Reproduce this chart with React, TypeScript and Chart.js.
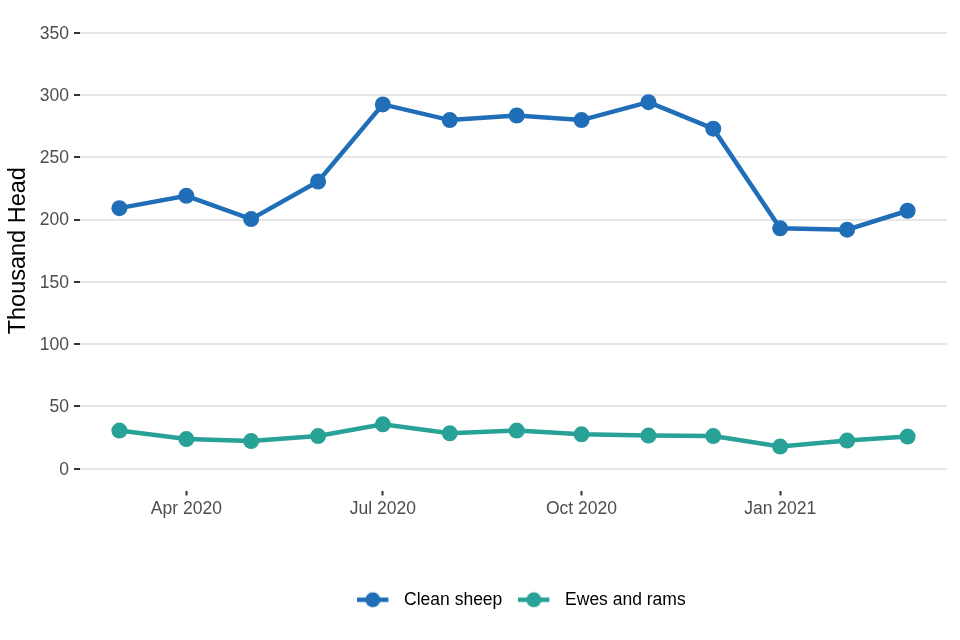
import React, { useEffect, useRef } from "react";
import { Chart, registerables } from "chart.js";

Chart.register(...registerables);

// ---- Data ----
const months = [
  "2020-03-01", "2020-04-01", "2020-05-01", "2020-06-01", "2020-07-01",
  "2020-08-01", "2020-09-01", "2020-10-01", "2020-11-01", "2020-12-01",
  "2021-01-01", "2021-02-01", "2021-03-01",
];
const cleanSheep = [209.2, 219.1, 200.4, 230.6, 292.5, 279.9, 283.6, 279.9, 294.3, 273.0, 193.0, 191.9, 207.1];
const ewesAndRams = [30.6, 23.8, 22.2, 26.2, 35.6, 28.4, 30.6, 27.6, 26.6, 26.2, 17.8, 22.6, 25.8];
const seriesNames = ["Clean sheep", "Ewes and rams"];
const seriesColors = ["#1f6eb7", "#28a197"];
const xTickDates = ["2020-04-01", "2020-07-01", "2020-10-01", "2021-01-01"];
const xTickLabels = ["Apr 2020", "Jul 2020", "Oct 2020", "Jan 2021"];
const yTicks = [0, 50, 100, 150, 200, 250, 300, 350];
const yTitle = "Thousand Head";

const DAY = 86400000;
const toDay = (s: string) => Date.parse(s + "T00:00:00Z") / DAY;

function makeLegendSymbol(color: string): HTMLCanvasElement {
  const c = document.createElement("canvas");
  c.width = 38;
  c.height = 18;
  const ctx = c.getContext("2d")!;
  ctx.strokeStyle = color;
  ctx.lineWidth = 4.5;
  ctx.beginPath();
  ctx.moveTo(0, 9);
  ctx.lineTo(31, 9);
  ctx.stroke();
  ctx.fillStyle = color;
  ctx.beginPath();
  ctx.arc(15.5, 9, 7.5, 0, Math.PI * 2);
  ctx.fill();
  return c;
}

export default function App() {
  const canvasRef = useRef<HTMLCanvasElement | null>(null);

  useEffect(() => {
    document.body.style.margin = "0";
    const canvas = canvasRef.current;
    if (!canvas) return;

    Chart.defaults.font.family = "'Liberation Sans', Arial, sans-serif";

    const xs = months.map(toDay);
    const first = xs[0];
    const last = xs[xs.length - 1];
    const pad = (last - first) * 0.05;
    const tickDays = xTickDates.map(toDay);

    const symbols = seriesColors.map(makeLegendSymbol);

    const legendShift = {
      id: "legendShift",
      afterLayout(chart: any) {
        const l = chart.legend;
        if (l) {
          l.left += 8;
          l.right += 8;
        }
      },
    };

    const chart = new Chart(canvas, {
      type: "line",
      data: {
        datasets: [cleanSheep, ewesAndRams].map((vals, i) => ({
          label: seriesNames[i],
          data: vals.map((v, j) => ({ x: xs[j], y: v })),
          borderColor: seriesColors[i],
          backgroundColor: seriesColors[i],
          pointBackgroundColor: seriesColors[i],
          pointBorderWidth: 0,
          pointRadius: 8,
          borderWidth: 4.5,
          tension: 0,
          fill: false,
        })),
      },
      options: {
        animation: false,
        responsive: true,
        maintainAspectRatio: false,
        layout: { padding: { left: 0, right: 13, top: 11, bottom: 21.5 } },
        plugins: {
          tooltip: { enabled: false },
          legend: {
            position: "bottom",
            fullSize: false,
            labels: {
              usePointStyle: true,
              pointStyleWidth: 38,
              padding: 16,
              color: "#000000",
              font: { size: 17.5 },
              generateLabels: (ch: any) =>
                ch.data.datasets.map((ds: any, i: number) => ({
                  text: ds.label,
                  pointStyle: symbols[i],
                  fillStyle: seriesColors[i],
                  strokeStyle: seriesColors[i],
                  lineWidth: 0,
                  hidden: false,
                  datasetIndex: i,
                  fontColor: "#000000",
                })),
            },
          },
        },
        scales: {
          x: {
            type: "linear",
            min: first - pad,
            max: last + pad,
            afterBuildTicks: (scale: any) => {
              scale.ticks = tickDays.map((v) => ({ value: v }));
            },
            afterFit: (scale: any) => {
              scale.height = 84.5;
            },
            ticks: {
              autoSkip: false,
              maxRotation: 0,
              padding: 3,
              color: "#4d4d4d",
              font: { size: 17.5 },
              callback: (value: any) => {
                const idx = tickDays.findIndex((d) => Math.abs(d - Number(value)) < 0.5);
                return idx >= 0 ? xTickLabels[idx] : "";
              },
            },
            grid: {
              drawOnChartArea: false,
              drawTicks: true,
              tickLength: 5,
              tickWidth: 2,
              tickColor: "#333333",
            },
            border: { display: false },
          },
          y: {
            type: "linear",
            min: -17.5,
            max: 367.5,
            afterBuildTicks: (scale: any) => {
              scale.ticks = yTicks.map((v) => ({ value: v }));
            },
            afterFit: (scale: any) => {
              scale.width = 80;
              scale.paddingTop = 0;
              scale.paddingBottom = 0;
            },
            ticks: {
              padding: 5,
              color: "#4d4d4d",
              font: { size: 17.5 },
              labelOffset: 1,
              callback: (value: any) => String(value),
            },
            grid: {
              color: "#e6e6e6",
              lineWidth: 2,
              drawTicks: true,
              tickLength: 6,
              tickWidth: 2,
              tickColor: "#333333",
            },
            border: { display: false },
            title: {
              display: true,
              text: yTitle,
              color: "#000000",
              font: { size: 23.5 },
              padding: { top: 4, bottom: 0 },
            },
          },
        },
      },
      plugins: [legendShift],
    } as any);

    return () => {
      chart.destroy();
    };
  }, []);

  return (
    <div style={{ position: "relative", width: 960, height: 640 }}>
      <canvas ref={canvasRef} />
    </div>
  );
}
